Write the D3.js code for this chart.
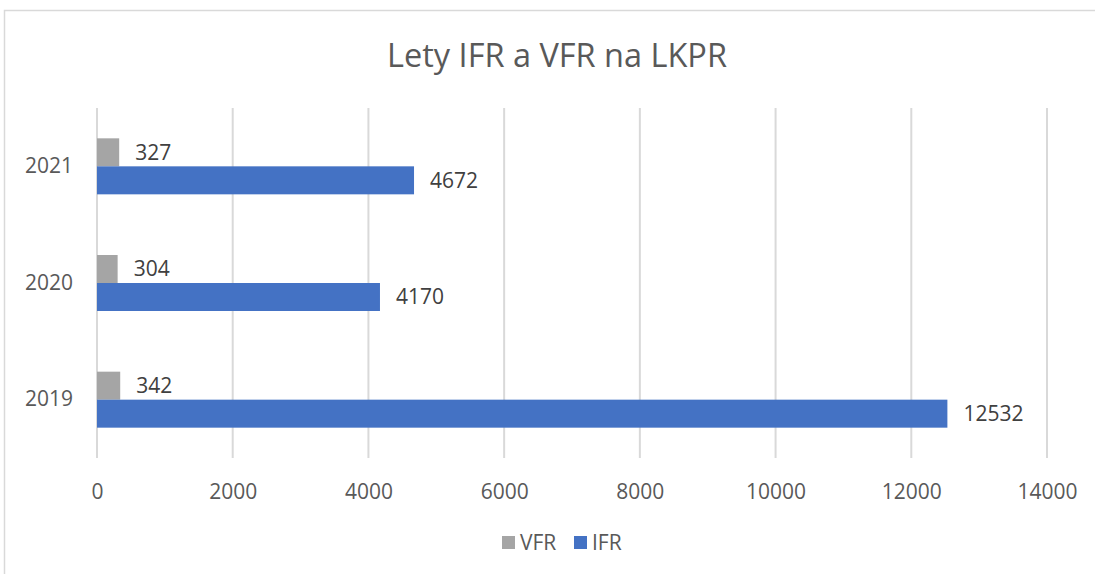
<!DOCTYPE html>
<html>
<head>
<meta charset="utf-8">
<script src="https://cdn.jsdelivr.net/npm/d3@7"></script>
<style>
  body { margin: 0; background: #ffffff; }
  text { font-family: "Open Sans", sans-serif; }
</style>
</head>
<body>
<div id="chart"></div>
<script>
// Chart data
var years = ["2021", "2020", "2019"];
var series = ["VFR", "IFR"];
var vfrValues = [327, 304, 342];
var ifrValues = [4672, 4170, 12532];
var xTicks = [0, 2000, 4000, 6000, 8000, 10000, 12000, 14000];

var colors = { VFR: "#A5A5A5", IFR: "#4472C4" };

var svgWidth = 1095;
var svgHeight = 574;

var margin = { top: 108, bottom: 116, left: 97, right: 48 };
var width = svgWidth - margin.left - margin.right;
var height = svgHeight - margin.top - margin.bottom;

var svg = d3.select("#chart")
    .append("svg")
    .attr("width", svgWidth)
    .attr("height", svgHeight);

// Outer chart border
svg.append("rect")
    .attr("x", 4.5)
    .attr("y", 10.5)
    .attr("width", 1200)
    .attr("height", 700)
    .attr("fill", "none")
    .attr("stroke", "#D9D9D9")
    .attr("stroke-width", 1.5);

// Title
svg.append("text")
    .attr("x", 557)
    .attr("y", 67)
    .attr("text-anchor", "middle")
    .style("font-size", "32.5px")
    .style("fill", "#595959")
    .text("Lety IFR a VFR na LKPR");

var chartGroup = svg.append("g")
    .attr("transform", `translate(${margin.left}, ${margin.top})`);

var xScale = d3.scaleLinear()
    .domain([0, 14000])
    .range([0, width]);

var yScale = d3.scaleBand()
    .domain(years)
    .range([0, height])
    .paddingInner(0.52)
    .paddingOuter(0.26);

var subScale = d3.scaleBand()
    .domain(series)
    .range([0, yScale.bandwidth()]);

// Vertical gridlines
chartGroup.selectAll(".grid")
    .data(xTicks)
    .enter()
    .append("line")
    .attr("x1", d => xScale(d))
    .attr("x2", d => xScale(d))
    .attr("y1", 0)
    .attr("y2", height)
    .attr("stroke", "#D9D9D9")
    .attr("stroke-width", 2);

// X axis labels
var xAxis = chartGroup.append("g")
    .attr("transform", `translate(0, ${height})`)
    .call(d3.axisBottom(xScale).tickValues(xTicks).tickSize(0).tickPadding(26).tickFormat(d3.format("d")));
xAxis.select(".domain").remove();
xAxis.selectAll("text")
    .style("font-family", "Open Sans, sans-serif")
    .style("font-size", "21px")
    .style("fill", "#595959");

// Y axis labels
var yAxis = chartGroup.append("g")
    .call(d3.axisLeft(yScale).tickSize(0).tickPadding(24));
yAxis.select(".domain").remove();
yAxis.selectAll("text")
    .style("font-family", "Open Sans, sans-serif")
    .style("font-size", "21px")
    .style("fill", "#595959");

// Build rows from the arrays
var rows = [];
years.forEach(function(year, i) {
    rows.push({ year: year, key: "VFR", value: vfrValues[i] });
    rows.push({ year: year, key: "IFR", value: ifrValues[i] });
});

// Bars
chartGroup.selectAll(".bar")
    .data(rows)
    .enter()
    .append("rect")
    .attr("x", xScale(0))
    .attr("y", d => yScale(d.year) + subScale(d.key))
    .attr("width", d => xScale(d.value) - xScale(0))
    .attr("height", subScale.bandwidth())
    .attr("fill", d => colors[d.key]);

// Data labels
chartGroup.selectAll(".label")
    .data(rows)
    .enter()
    .append("text")
    .attr("x", d => xScale(d.value) + 16)
    .attr("y", d => yScale(d.year) + subScale(d.key) + subScale.bandwidth() / 2)
    .attr("dy", "0.35em")
    .style("font-size", "21px")
    .style("fill", "#404040")
    .text(d => d.value);

// Legend
var legend = svg.append("g")
    .attr("transform", "translate(502, 543)");

var legendX = { VFR: 0, IFR: 72 };

series.forEach(function(key) {
    var item = legend.append("g")
        .attr("transform", `translate(${legendX[key]}, 0)`);
    item.append("rect")
        .attr("x", 0)
        .attr("y", -7)
        .attr("width", 13)
        .attr("height", 13)
        .attr("fill", colors[key]);
    item.append("text")
        .attr("x", 18)
        .attr("y", 0)
        .attr("dy", "0.35em")
        .style("font-size", "21px")
        .style("fill", "#595959")
        .text(key);
});
</script>
</body>
</html>
